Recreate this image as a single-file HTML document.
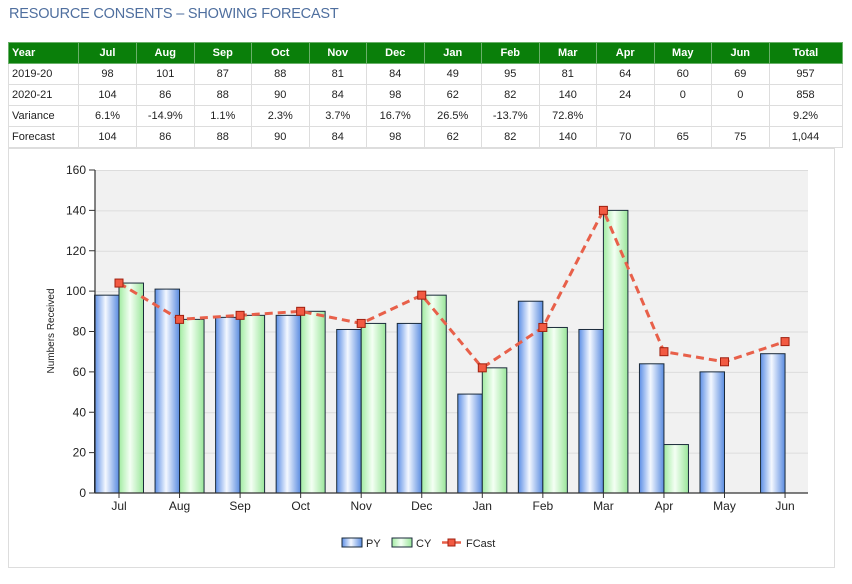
<!DOCTYPE html>
<html><head><meta charset="utf-8"><style>
body{margin:0;background:#fff;width:852px;height:584px;overflow:hidden;font-family:"Liberation Sans",Arial,sans-serif;}
.title{position:absolute;left:9px;top:6px;font-size:14.5px;color:#4f6f9f;letter-spacing:-0.2px}
table{position:absolute;left:8px;top:42px;border-collapse:collapse;font-size:11px;color:#222;table-layout:fixed;width:834px}
td,th{height:21px;padding:0 3px;border:1px solid #ddd;text-align:center;box-sizing:border-box;overflow:hidden;white-space:nowrap}
th{background:#0a7f0a;color:#fff;font-weight:bold;border-color:#6ab06a}
td:first-child,th:first-child{text-align:left}
.panel{position:absolute;left:8px;top:148px;width:827px;height:420px;border:1px solid #ddd;box-sizing:border-box}
</style></head><body>
<div class="title">RESOURCE CONSENTS – SHOWING FORECAST</div>
<table>
<colgroup><col style="width:70px"><col style="width:58px"><col style="width:57.5px"><col style="width:57.5px"><col style="width:57.5px"><col style="width:57.5px"><col style="width:57.5px"><col style="width:57.5px"><col style="width:57.5px"><col style="width:57.5px"><col style="width:57.5px"><col style="width:57.5px"><col style="width:57.5px"><col style="width:73px"></colgroup>
<tr><th>Year</th><th>Jul</th><th>Aug</th><th>Sep</th><th>Oct</th><th>Nov</th><th>Dec</th><th>Jan</th><th>Feb</th><th>Mar</th><th>Apr</th><th>May</th><th>Jun</th><th>Total</th></tr>
<tr><td>2019-20</td><td>98</td><td>101</td><td>87</td><td>88</td><td>81</td><td>84</td><td>49</td><td>95</td><td>81</td><td>64</td><td>60</td><td>69</td><td>957</td></tr>
<tr><td>2020-21</td><td>104</td><td>86</td><td>88</td><td>90</td><td>84</td><td>98</td><td>62</td><td>82</td><td>140</td><td>24</td><td>0</td><td>0</td><td>858</td></tr>
<tr><td>Variance</td><td>6.1%</td><td>-14.9%</td><td>1.1%</td><td>2.3%</td><td>3.7%</td><td>16.7%</td><td>26.5%</td><td>-13.7%</td><td>72.8%</td><td></td><td></td><td></td><td>9.2%</td></tr>
<tr><td>Forecast</td><td>104</td><td>86</td><td>88</td><td>90</td><td>84</td><td>98</td><td>62</td><td>82</td><td>140</td><td>70</td><td>65</td><td>75</td><td>1,044</td></tr>
</table>
<div class="panel"></div>
<svg style="position:absolute;left:0;top:0" width="852" height="584" font-family="Liberation Sans, Arial, sans-serif">
<defs>
<linearGradient id="b" x1="0" x2="1"><stop offset="0" stop-color="#5d8fe6"/><stop offset="0.45" stop-color="#f4f8ff"/><stop offset="1" stop-color="#5a8ce0"/></linearGradient>
<linearGradient id="g" x1="0" x2="1"><stop offset="0" stop-color="#a2eca2"/><stop offset="0.45" stop-color="#f4fff4"/><stop offset="1" stop-color="#9ae69a"/></linearGradient>
</defs>
<rect x="95" y="170" width="713" height="323" fill="#f1f1f1"/>
<g stroke="#dcdcdc" stroke-width="1">
<line x1="95" x2="808" y1="170.5" y2="170.5"/><line x1="95" x2="808" y1="210.9" y2="210.9"/><line x1="95" x2="808" y1="251.3" y2="251.3"/><line x1="95" x2="808" y1="291.6" y2="291.6"/><line x1="95" x2="808" y1="332" y2="332"/><line x1="95" x2="808" y1="372.4" y2="372.4"/><line x1="95" x2="808" y1="412.8" y2="412.8"/><line x1="95" x2="808" y1="453.1" y2="453.1"/>
</g>
<g id="bars" stroke="#1a2a3a" stroke-width="1"></g>
<g stroke="#333" stroke-width="1.2" fill="none">
<line x1="95" y1="170" x2="95" y2="493"/><line x1="95" y1="493" x2="808" y2="493"/>
</g>
<g id="ax" font-size="12" fill="#222"></g>
<text transform="translate(54,331) rotate(-90)" text-anchor="middle" font-size="10" fill="#222">Numbers Received</text>
<polyline id="fl" fill="none" stroke="#e8604a" stroke-width="3" stroke-dasharray="8,5"/>
<g id="mk" fill="#f25a42" stroke="#a02010" stroke-width="1"></g>
<rect x="342" y="538" width="20" height="9" fill="url(#b)" stroke="#1a2a3a"/>
<text x="366" y="547" font-size="11" fill="#222">PY</text>
<rect x="392" y="538" width="20" height="9" fill="url(#g)" stroke="#1a2a3a"/>
<text x="416" y="547" font-size="11" fill="#222">CY</text>
<line x1="442" y1="542.5" x2="461" y2="542.5" stroke="#e8604a" stroke-width="2.5"/>
<rect x="448" y="539" width="7" height="7" fill="#f25a42" stroke="#a02010"/>
<text x="466" y="547" font-size="11" fill="#222">FCast</text>
</svg>
<script>
var py=[98,101,87,88,81,84,49,95,81,64,60,69],cy=[104,86,88,90,84,98,62,82,140,24,0,0],fc=[104,86,88,90,84,98,62,82,140,70,65,75];
var m=["Jul","Aug","Sep","Oct","Nov","Dec","Jan","Feb","Mar","Apr","May","Jun"];
function Y(v){return 493-v*323/160;}
var ns="http://www.w3.org/2000/svg";
function el(p,t,a,txt){var e=document.createElementNS(ns,t);for(var k in a)e.setAttribute(k,a[k]);if(txt!=null)e.textContent=txt;document.getElementById(p).appendChild(e);}
var pts=[];
for(var i=0;i<12;i++){var c=119+60.55*i;
el("bars","rect",{x:c-24.5,y:Y(py[i]),width:24.5,height:493-Y(py[i]),fill:"url(#b)"});
if(cy[i]>0)el("bars","rect",{x:c,y:Y(cy[i]),width:24.5,height:493-Y(cy[i]),fill:"url(#g)"});
el("ax","line",{x1:c,x2:c,y1:493,y2:498,stroke:"#333"});
el("ax","text",{x:c,y:510,"text-anchor":"middle"},m[i]);
pts.push(c+","+Y(fc[i]));
el("mk","rect",{x:c-4,y:Y(fc[i])-4,width:8,height:8});}
document.getElementById("fl").setAttribute("points",pts.join(" "));
for(var v=0;v<=160;v+=20){el("ax","line",{x1:89,x2:95,y1:Y(v),y2:Y(v),stroke:"#333"});el("ax","text",{x:86,y:Y(v)+4,"text-anchor":"end"},v);}
</script>
</body></html>
